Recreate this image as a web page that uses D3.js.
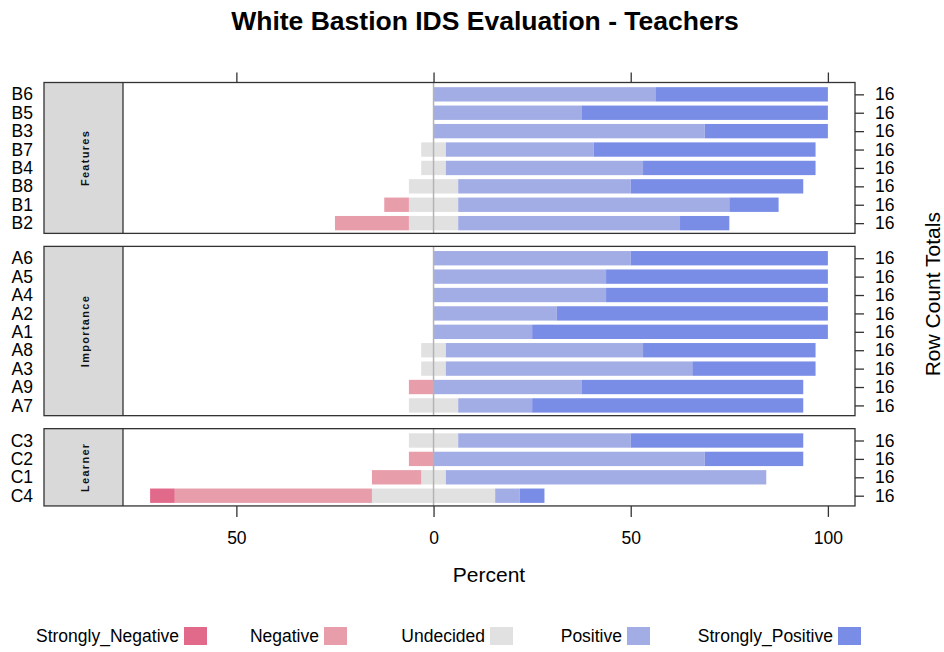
<!DOCTYPE html>
<html>
<head>
<meta charset="utf-8">
<script src="https://cdn.jsdelivr.net/npm/d3@7"></script>
<style>
  html, body { margin: 0; padding: 0; background: #fff; }
  svg { display: block; font-family: "Liberation Sans", Arial, sans-serif; }
</style>
</head>
<body>
<script>
// ---------------- DATA ----------------
const chartTitle = "White Bastion IDS Evaluation - Teachers";
const levels = ["Strongly_Negative", "Negative", "Undecided", "Positive", "Strongly_Positive"];
const levelColors = ["#E1698A", "#E89DAB", "#E1E1E1", "#A3ADE5", "#7A8DE6"];
const panelNames = ["Features", "Importance", "Learner"];
const itemLabels = [
  ["B6", "B5", "B3", "B7", "B4", "B8", "B1", "B2"],
  ["A6", "A5", "A4", "A2", "A1", "A8", "A3", "A9", "A7"],
  ["C3", "C2", "C1", "C4"]
];
// counts of responses per item (panel order, top to bottom)
const stronglyNegative = [
  [0, 0, 0, 0, 0, 0, 0, 0],
  [0, 0, 0, 0, 0, 0, 0, 0, 0],
  [0, 0, 0, 1]
];
const negative = [
  [0, 0, 0, 0, 0, 0, 1, 3],
  [0, 0, 0, 0, 0, 0, 0, 1, 0],
  [0, 1, 2, 8]
];
const undecided = [
  [0, 0, 0, 1, 1, 2, 2, 2],
  [0, 0, 0, 0, 0, 1, 1, 0, 2],
  [2, 0, 1, 5]
];
const positive = [
  [9, 6, 11, 6, 8, 7, 11, 9],
  [8, 7, 7, 5, 4, 8, 10, 6, 3],
  [7, 11, 13, 1]
];
const stronglyPositive = [
  [7, 10, 5, 9, 7, 7, 2, 2],
  [8, 9, 9, 11, 12, 7, 5, 9, 11],
  [7, 4, 0, 1]
];
const xTickValues = [-50, 0, 50, 100];
const xTickLabels = ["50", "0", "50", "100"];
const xAxisTitle = "Percent";
const rightAxisTitle = "Row Count Totals";

// ---------------- LAYOUT ----------------
const W = 944, H = 652;
const panelLeft = 44, stripRight = 123, plotRight = 855;
const firstTop = 82.5, rowUnit = 18.4, panelGap = 13;
const font = '"Liberation Sans", Arial, sans-serif';

const svg = d3.select("body").append("svg")
  .attr("width", W).attr("height", H)
  .attr("viewBox", `0 0 ${W} ${H}`);

const panels = panelNames.map((name, p) => {
  const rows = itemLabels[p].map((lab, i) => {
    const counts = [stronglyNegative[p][i], negative[p][i], undecided[p][i], positive[p][i], stronglyPositive[p][i]];
    const total = d3.sum(counts);
    const pct = counts.map(c => c / total * 100);
    const segs = [];
    let left = -pct[2] / 2;
    segs.push({ lev: 2, x0: -pct[2] / 2, x1: pct[2] / 2 });
    segs.push({ lev: 1, x0: left - pct[1], x1: left }); left -= pct[1];
    segs.push({ lev: 0, x0: left - pct[0], x1: left });
    let right = pct[2] / 2;
    segs.push({ lev: 3, x0: right, x1: right + pct[3] }); right += pct[3];
    segs.push({ lev: 4, x0: right, x1: right + pct[4] });
    return { label: lab, total, segs: segs.filter(s => s.x1 - s.x0 > 1e-9) };
  });
  return { name, rows };
});

const allSegs = panels.flatMap(p => p.rows.flatMap(r => r.segs));
const dMin = d3.min(allSegs, s => s.x0), dMax = d3.max(allSegs, s => s.x1);
const ext = (dMax - dMin) * 0.04;
const x = d3.scaleLinear().domain([dMin - ext, dMax + ext]).range([stripRight, plotRight]);

svg.append("text")
  .attr("x", 485).attr("y", 30)
  .attr("text-anchor", "middle")
  .attr("font-size", 26.5).attr("font-weight", "bold")
  .attr("fill", "#000")
  .text(chartTitle);

let curTop = firstTop;
const panelBoxes = [];
panels.forEach((panel, p) => {
  const n = panel.rows.length;
  const h = (n + 0.2) * rowUnit;
  const pTop = curTop;
  const pBottom = pTop + h;
  const y = d3.scalePoint().domain(panel.rows.map(r => r.label)).range([pTop + 0.8, pBottom + 0.8]).padding(0.6);
  const barH = y.step() * 0.78;
  panelBoxes.push({ top: pTop, bottom: pBottom, y });

  const g = svg.append("g");
  g.append("rect")
    .attr("x", panelLeft).attr("y", pTop)
    .attr("width", stripRight - panelLeft).attr("height", h)
    .attr("fill", "#D9D9D9");
  g.append("text")
    .attr("transform", `translate(${(panelLeft + stripRight) / 2 + 5.5},${(pTop + pBottom) / 2}) rotate(-90)`)
    .attr("text-anchor", "middle")
    .attr("font-size", 11).attr("font-weight", "bold")
    .attr("letter-spacing", 1.3)
    .attr("fill", "#111")
    .text(panel.name);

  panel.rows.forEach(r => {
    g.selectAll(null).data(r.segs).enter().append("rect")
      .attr("x", s => x(s.x0))
      .attr("width", s => x(s.x1) - x(s.x0))
      .attr("y", y(r.label) - barH / 2)
      .attr("height", barH)
      .attr("fill", s => levelColors[s.lev]);
  });

  g.append("line")
    .attr("x1", x(0)).attr("x2", x(0))
    .attr("y1", pTop).attr("y2", pBottom)
    .attr("stroke", "#B3B3B3").attr("stroke-width", 1.5);

  g.append("rect")
    .attr("x", panelLeft).attr("y", pTop)
    .attr("width", plotRight - panelLeft).attr("height", h)
    .attr("fill", "none").attr("stroke", "#333").attr("stroke-width", 1.3);
  g.append("line")
    .attr("x1", stripRight).attr("x2", stripRight)
    .attr("y1", pTop).attr("y2", pBottom)
    .attr("stroke", "#333").attr("stroke-width", 1.3);

  const la = svg.append("g")
    .attr("transform", `translate(${panelLeft},0)`)
    .call(d3.axisLeft(y).tickSize(0).tickPadding(11));
  la.select(".domain").remove();
  la.selectAll("text").attr("font-size", 17.5).attr("font-family", font).attr("fill", "#000");

  const totals = new Map(panel.rows.map(r => [r.label, r.total]));
  const ra = svg.append("g")
    .attr("transform", `translate(${plotRight},0)`)
    .call(d3.axisRight(y).tickSize(9).tickPadding(11).tickFormat(d => totals.get(d)));
  ra.select(".domain").remove();
  ra.selectAll("line").attr("stroke", "#333").attr("stroke-width", 1.3);
  ra.selectAll("text").attr("font-size", 17.5).attr("font-family", font).attr("fill", "#000");

  curTop = pBottom + panelGap;
});

const ta = svg.append("g")
  .attr("transform", `translate(0,${panelBoxes[0].top})`)
  .call(d3.axisTop(x).tickValues(xTickValues).tickSize(10).tickFormat(""));
ta.select(".domain").remove();
ta.selectAll("line").attr("stroke", "#333").attr("stroke-width", 1.3);

const lastBottom = panelBoxes[panelBoxes.length - 1].bottom;
const ba = svg.append("g")
  .attr("transform", `translate(0,${lastBottom})`)
  .call(d3.axisBottom(x).tickValues(xTickValues).tickSize(11).tickPadding(15)
    .tickFormat((d, i) => xTickLabels[i]));
ba.select(".domain").remove();
ba.selectAll("line").attr("stroke", "#333").attr("stroke-width", 1.3);
ba.selectAll("text").attr("font-size", 17.5).attr("font-family", font).attr("fill", "#000");

svg.append("text")
  .attr("x", (stripRight + plotRight) / 2).attr("y", 582)
  .attr("text-anchor", "middle")
  .attr("font-size", 21).attr("fill", "#000")
  .text(xAxisTitle);

svg.append("text")
  .attr("transform", `translate(940,${(panelBoxes[0].top + lastBottom) / 2}) rotate(-90)`)
  .attr("text-anchor", "middle")
  .attr("font-size", 21).attr("fill", "#000")
  .text(rightAxisTitle);

const legendSquareX = [184, 324, 490, 627, 838];
const lg = svg.append("g");
levels.forEach((lev, i) => {
  lg.append("rect")
    .attr("x", legendSquareX[i]).attr("y", 627)
    .attr("width", 23).attr("height", 18)
    .attr("fill", levelColors[i]);
  lg.append("text")
    .attr("x", legendSquareX[i] - 5).attr("y", 642)
    .attr("text-anchor", "end")
    .attr("font-size", 17.5).attr("fill", "#000")
    .text(lev);
});
</script>
</body>
</html>
